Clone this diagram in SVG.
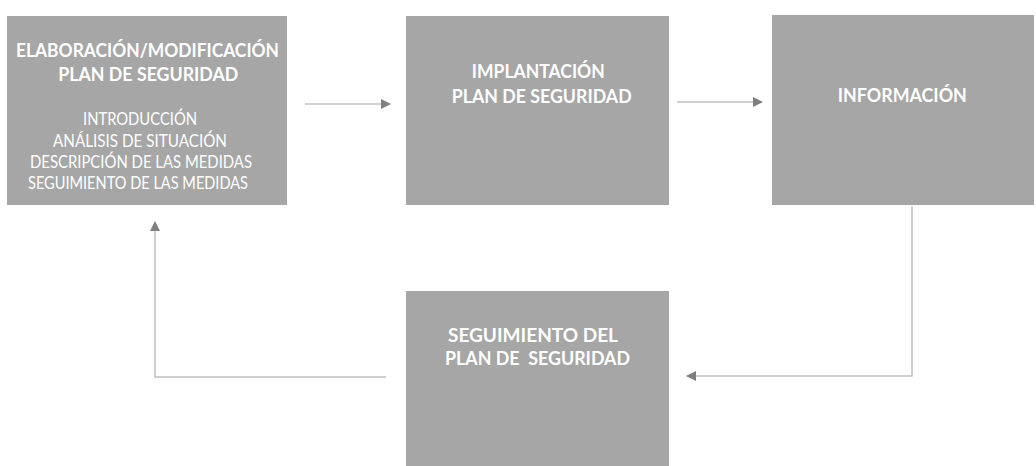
<svg xmlns="http://www.w3.org/2000/svg" width="1036" height="466" viewBox="0 0 1036 466">
  <style>
    .box { fill: #a6a6a6; }
    .title { font-family: "Lato", "Open Sans", "Liberation Sans", sans-serif; font-weight: bold; font-size: 19px; fill: #ffffff; text-anchor: middle; }
    .sub { font-family: "Lato", "Open Sans", "Liberation Sans", sans-serif; font-size: 16.5px; fill: #ffffff; text-anchor: middle; }
    .conn { fill: none; stroke: #c0c0c0; stroke-width: 1.5; }
  </style>
  <defs>
    <marker id="arrow" viewBox="0 0 10 10" refX="9" refY="5" markerWidth="10" markerHeight="10" markerUnits="userSpaceOnUse" orient="auto">
      <path d="M0,0 L10,5 L0,10 Z" fill="#7f7f7f"/>
    </marker>
  </defs>
  <rect width="1036" height="466" fill="#ffffff"/>

  <g id="node-elaboracion">
    <rect class="box" x="7" y="16" width="280" height="189"/>
    <text class="title" x="147.5" y="57" textLength="263" lengthAdjust="spacingAndGlyphs">ELABORACIÓN/MODIFICACIÓN</text>
    <text class="title" x="148.3" y="81" textLength="180" lengthAdjust="spacingAndGlyphs">PLAN DE SEGURIDAD</text>
    <text class="sub" x="140" y="125" textLength="114" lengthAdjust="spacingAndGlyphs">INTRODUCCIÓN</text>
    <text class="sub" x="140" y="147" textLength="174" lengthAdjust="spacingAndGlyphs">ANÁLISIS DE SITUACIÓN</text>
    <text class="sub" x="141" y="168" textLength="222" lengthAdjust="spacingAndGlyphs">DESCRIPCIÓN DE LAS MEDIDAS</text>
    <text class="sub" x="138" y="189" textLength="220" lengthAdjust="spacingAndGlyphs">SEGUIMIENTO DE LAS MEDIDAS</text>
  </g>

  <g id="node-implantacion">
    <rect class="box" x="406" y="16" width="263" height="189"/>
    <text class="title" x="538.3" y="78" textLength="133" lengthAdjust="spacingAndGlyphs">IMPLANTACIÓN</text>
    <text class="title" x="541.7" y="103" textLength="180" lengthAdjust="spacingAndGlyphs">PLAN DE SEGURIDAD</text>
  </g>

  <g id="node-informacion">
    <rect class="box" x="772" y="15" width="262" height="190"/>
    <text class="title" x="902.3" y="101.5" textLength="129" lengthAdjust="spacingAndGlyphs">INFORMACIÓN</text>
  </g>

  <g id="node-seguimiento">
    <rect class="box" x="406" y="291" width="263" height="175"/>
    <text class="title" x="533" y="341.5" textLength="170" lengthAdjust="spacingAndGlyphs">SEGUIMIENTO DEL</text>
    <text class="title" x="537.5" y="365" textLength="185" lengthAdjust="spacingAndGlyphs" xml:space="preserve">PLAN DE  SEGURIDAD</text>
  </g>

  <g id="connectors">
    <path class="conn" d="M305,104 H390" marker-end="url(#arrow)"/>
    <path class="conn" d="M677,102 H762" marker-end="url(#arrow)"/>
    <path class="conn" d="M912,206 V376 H687" marker-end="url(#arrow)"/>
    <path class="conn" d="M386,377 H155 V222" marker-end="url(#arrow)"/>
  </g>
</svg>
